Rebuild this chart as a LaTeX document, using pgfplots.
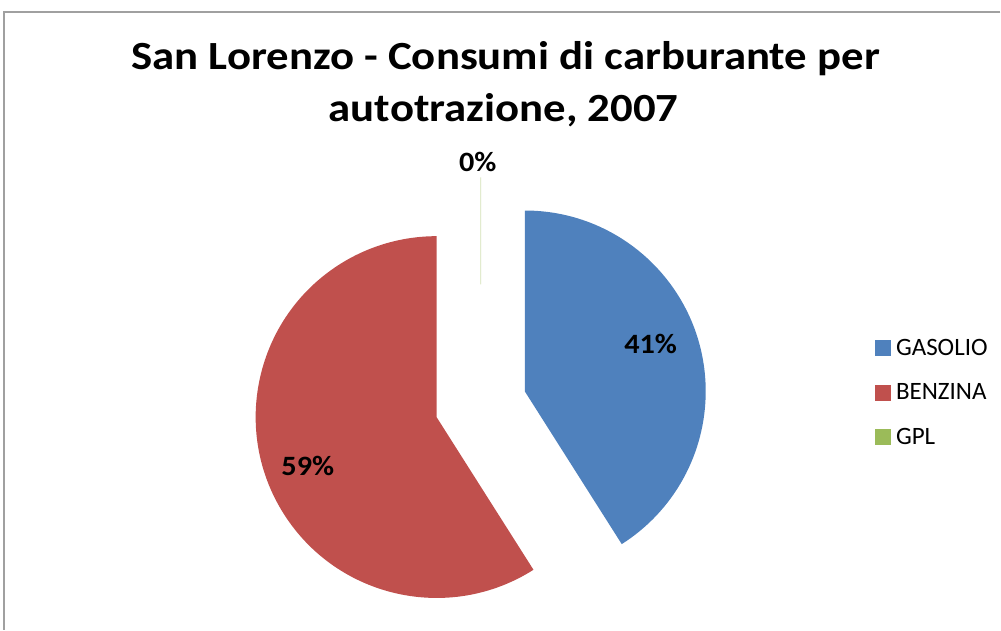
\documentclass[border=0pt]{standalone}
\usepackage{pgfplots}
\pgfplotsset{compat=1.18}
\usepackage{pgfplotstable}
\usepackage{fontspec}
\setmainfont{Carlito}
\newfontfamily\titlefont[FakeStretch=1.12]{Carlito}
\newfontfamily\labelfont[FakeStretch=1.08]{Carlito}
\definecolor{gasblue}{HTML}{4F81BD}
\definecolor{benred}{HTML}{C0504D}
\definecolor{gplgreen}{HTML}{9BBB59}
\definecolor{framegray}{HTML}{A0A0A0}

\pgfplotstableread{
label value
GASOLIO 41
BENZINA 59
GPL 0
}\datatable

\begin{document}
\begin{tikzpicture}
\pgfplotstablegetelem{0}{value}\of\datatable \let\vA\pgfplotsretval
\pgfplotstablegetelem{1}{value}\of\datatable \let\vB\pgfplotsretval
\pgfplotstablegetelem{2}{value}\of\datatable \let\vC\pgfplotsretval
\pgfmathsetmacro\tot{\vA+\vB+\vC}
\pgfmathsetmacro\dA{\vA/\tot*360}
\pgfmathsetmacro\dB{\vB/\tot*360}
\pgfmathsetmacro\dC{\vC/\tot*360}
% angles (counter-clockwise from +x); Excel starts at 12 o'clock, clockwise
\pgfmathsetmacro\sA{90}
\pgfmathsetmacro\eA{\sA-\dA}
\pgfmathsetmacro\sB{\eA}
\pgfmathsetmacro\eB{\sB-\dB}
\pgfmathsetmacro\sC{\eB}
\pgfmathsetmacro\eC{\sC-\dC}
\pgfmathsetmacro\mA{(\sA+\eA)/2}
\pgfmathsetmacro\mB{(\sB+\eB)/2}
\pgfmathsetmacro\mC{(\sC+\eC)/2}
% pie centre, explosion, radius (axis units = pt)
\def\cx{481}\def\cy{225.5}\def\ex{46}\def\R{181}
\pgfmathsetmacro\axA{\cx+\ex*cos(\mA)}\pgfmathsetmacro\ayA{\cy+\ex*sin(\mA)}
\pgfmathsetmacro\axB{\cx+\ex*cos(\mB)}\pgfmathsetmacro\ayB{\cy+\ex*sin(\mB)}
\pgfmathsetmacro\axC{\cx+\ex*cos(\mC)}\pgfmathsetmacro\ayC{\cy+\ex*sin(\mC)}
\begin{axis}[
  scale only axis, width=1001pt, height=630pt,
  xmin=0, xmax=1001, ymin=0, ymax=630,
  enlargelimits=false, hide axis, clip=false,
  legend style={at={(axis cs:872,294)}, anchor=north west, draw=none, fill=none,
    font=\fontsize{25}{30}\selectfont, row sep=25pt, column sep=5pt,
    nodes={inner sep=1pt}},
  legend cell align=left,
  legend image code/.code={\fill[#1] (0pt,-7.5pt) rectangle (15pt,7.5pt);},
]
\path (axis cs:0,0) rectangle (axis cs:1001,630);
% frame
\draw[framegray, line width=1.3pt] (axis cs:1001,618) -- (axis cs:4,618) -- (axis cs:4,0);
% slices
\fill[gasblue] (axis cs:\axA,\ayA) -- ++(\sA:\R pt) arc[start angle=\sA, end angle=\eA, radius=\R pt] -- cycle;
\fill[benred] (axis cs:\axB,\ayB) -- ++(\sB:\R pt) arc[start angle=\sB, end angle=\eB, radius=\R pt] -- cycle;
\draw[gplgreen!45, line width=0.8pt] (axis cs:\axC,\ayC) ++(\mC:74pt) -- ++(\mC:107pt);
% data labels
\node[font=\labelfont\fontsize{28}{32}\bfseries\selectfont] at (axis cs:651,286) {41\%};
\node[font=\labelfont\fontsize{28}{32}\bfseries\selectfont] at (axis cs:308,164) {59\%};
\node[font=\labelfont\fontsize{28}{32}\bfseries\selectfont] at (axis cs:478,468) {0\%};
% title
\node[anchor=base, font=\titlefont\fontsize{40}{52}\bfseries\selectfont] at (axis cs:506,560) {San Lorenzo - Consumi di carburante per};
\node[anchor=base, font=\titlefont\fontsize{40}{52}\bfseries\selectfont] at (axis cs:504,508) {autotrazione, 2007};
% legend
\addlegendimage{gasblue}\addlegendentry{GASOLIO}
\addlegendimage{benred}\addlegendentry{BENZINA}
\addlegendimage{gplgreen}\addlegendentry{GPL}
\end{axis}
\end{tikzpicture}
\end{document}
